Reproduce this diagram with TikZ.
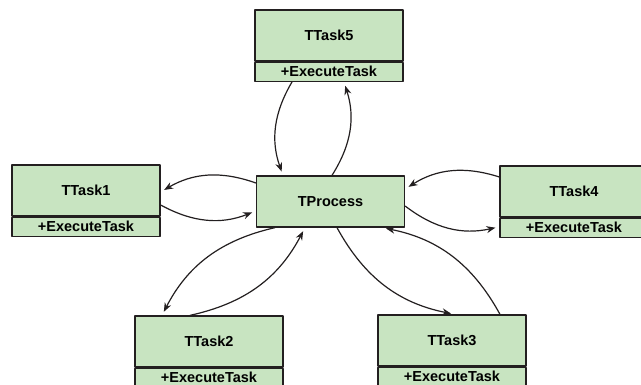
\documentclass[tikz,border=0pt]{standalone}
\usepackage{fontspec}
\setmainfont{Liberation Sans}
\usetikzlibrary{arrows.meta,positioning}
\definecolor{classfill}{RGB}{200,228,193}
\definecolor{classline}{RGB}{35,31,32}
\begin{document}
\begin{tikzpicture}[x=1pt, y=1pt, font=\fontsize{14.5}{17}\selectfont\bfseries, line join=round, >={Stealth[length=9pt,width=7pt]}]
	\tikzset{
		classname/.style={draw=classline, line width=1.3pt, fill=classfill, minimum width=148pt, minimum height=51pt, inner sep=0pt},
		classop/.style={draw=classline, line width=1.3pt, fill=classfill, minimum width=148pt, minimum height=19pt, inner sep=0pt, below=0pt of #1},
		msg/.style={->, classline, line width=1.2pt, bend right=25, shorten >=4pt}
	}
	\clip (0,0) rectangle (641,-385);
	% process in the middle
	\node[classname] (tp) at (330.5,-201.5) {TProcess};
	% the five tasks
	\node[classname] (t5) at (329,-35.5) {TTask5};
	\node[classop=t5] (t5op) {+ExecuteTask};
	\node[classname] (t1) at (86,-190.5) {TTask1};
	\node[classop=t1] (t1op) {+ExecuteTask};
	\node[classname] (t4) at (574,-191.5) {TTask4};
	\node[classop=t4] (t4op) {+ExecuteTask};
	\node[classname] (t2) at (209,-341.5) {TTask2};
	\node[classop=t2] (t2op) {+ExecuteTask};
	\node[classname] (t3) at (452,-340.5) {TTask3};
	\node[classop=t3] (t3op) {+ExecuteTask};
	% calls back and forth
	\draw[msg] ([xshift=-37pt]t5op.south) to ([xshift=-47.5pt]tp.north);
	\draw[msg] ([xshift=1.5pt]tp.north) to ([xshift=15pt]t5op.south);
	\draw[msg] ([yshift=18.5pt]tp.west) to ([yshift=-1.5pt]t1.east);
	\draw[msg] ([yshift=-14.5pt]t1.east) to ([yshift=-9.5pt]tp.west);
	\draw[msg] ([yshift=14.5pt]t4.west) to ([yshift=12.5pt]tp.east);
	\draw[msg] ([yshift=-4.5pt]tp.east) to ([yshift=1pt]t4op.west);
	\draw[msg] ([xshift=-55.5pt]tp.south) to ([xshift=-47pt]t2.north);
	\draw[msg] ([xshift=-19pt]t2.north) to ([xshift=-25.5pt]tp.south);
	\draw[msg] ([xshift=6.5pt]tp.south) to ([xshift=3pt]t3.north);
	\draw[msg] ([xshift=48pt]t3.north) to ([xshift=51.5pt]tp.south);
\end{tikzpicture}
\end{document}
